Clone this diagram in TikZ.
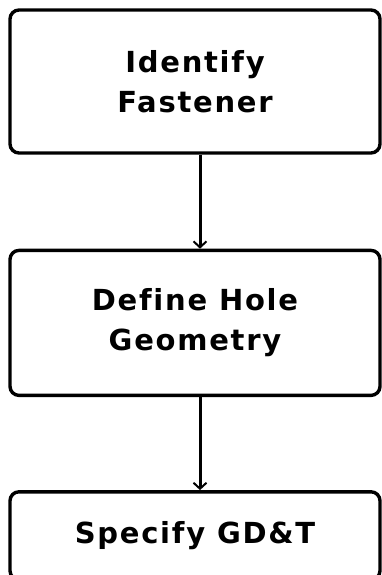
\documentclass[tikz,border=0pt]{standalone}
\usepackage{fontspec}
\setsansfont{DejaVu Sans}[LetterSpace=6,Ligatures=NoCommon]
\usetikzlibrary{positioning,arrows.meta}
\tikzset{
  stepbox/.style={draw, line width=3.4pt, rounded corners=9pt, minimum width=370pt,
    align=center, font=\sffamily\bfseries\fontsize{29}{40}\selectfont},
  flow/.style={line width=3pt, -{Straight Barb[length=6pt,width=13pt,line width=2pt]}}
}
\begin{document}
\begin{tikzpicture}
  \useasboundingbox (0,0) rectangle (382pt,-575pt);
  \node[stepbox, minimum height=143pt] (ident) at (195pt,-81.5pt) {Identify\\Fastener};
  \node[stepbox, minimum height=145pt, below=94pt of ident] (hole) {Define Hole\\Geometry};
  \node[stepbox, minimum height=88pt, below=93pt of hole] (gdt) {Specify GD\&T};
  % arrows between the steps
  \draw[flow] ([xshift=5pt]ident.south) -- ([xshift=5pt]hole.north);
  \draw[flow] ([xshift=5pt]hole.south) -- ([xshift=5pt]gdt.north);
\end{tikzpicture}
\end{document}
